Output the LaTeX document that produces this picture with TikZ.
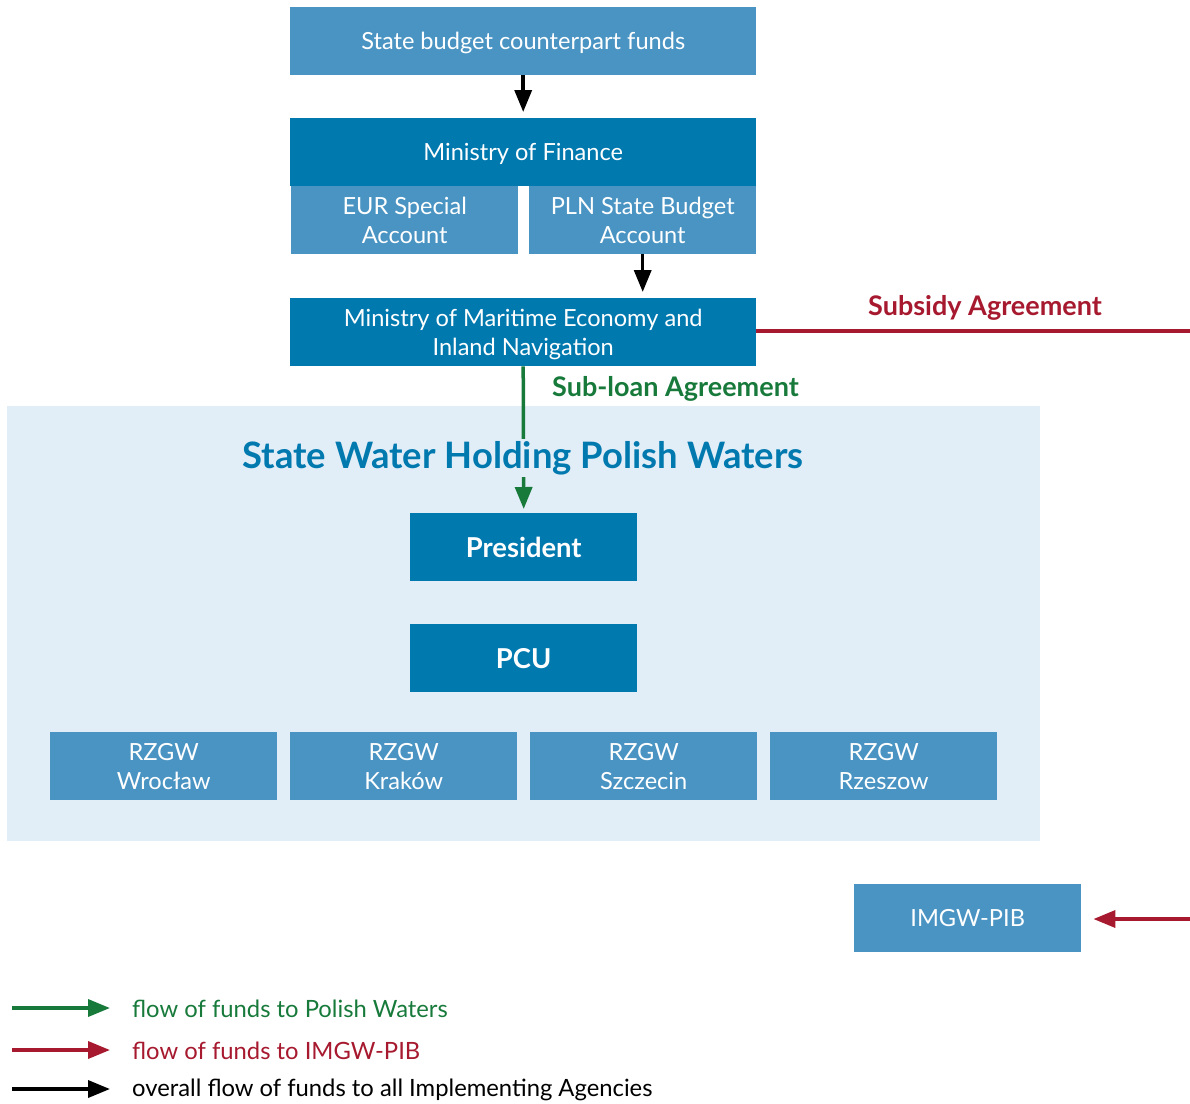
\documentclass[tikz,border=0pt]{standalone}
\usepackage{fontspec}
\setmainfont{Lato}
\usetikzlibrary{arrows.meta}
\definecolor{medblue}{HTML}{4A94C3}
\definecolor{darkblue}{HTML}{0079AF}
\definecolor{bglight}{HTML}{E1EDF7}
\definecolor{redc}{HTML}{A6192E}
\definecolor{greenc}{HTML}{177A3B}
\tikzset{
  x=1pt, y=-1pt,
  boxbase/.style={draw=none, text=white, align=center, inner sep=0pt,
    font=\fontsize{23.6}{29}\selectfont, anchor=north west, text depth=0pt},
  medbox/.style={boxbase, fill=medblue},
  darkbox/.style={boxbase, fill=darkblue},
  boldbox/.style={darkbox, font=\fontsize{27.4}{29}\selectfont\bfseries},
  flow/.style={line width=3.5pt, -{Triangle[length=22pt,width=17pt]}},
  legtext/.style={anchor=west, inner sep=0pt, font=\fontsize{23.8}{26}\selectfont},
  agree/.style={inner sep=0pt, font=\fontsize{27}{30}\selectfont\bfseries},
}
\begin{document}
\begin{tikzpicture}
\useasboundingbox (0,0) rectangle (1190,1103);
% background region
\fill[bglight] (7,406) rectangle (1040,841);
% top boxes
\node[medbox, minimum width=466pt, minimum height=68pt] (sb) at (290,7) {State budget counterpart funds};
\node[darkbox, minimum width=466pt, minimum height=68pt] (mof) at (290,118) {Ministry of Finance};
\node[medbox, minimum width=227pt, minimum height=68pt] (eur) at (291,186) {EUR Special\\Account};
\node[medbox, minimum width=227pt, minimum height=68pt] (pln) at (529,186) {PLN State Budget\\Account};
\node[darkbox, minimum width=466pt, minimum height=68pt] (mme) at (290,298) {Ministry of Maritime Economy and\\Inland Navigation};
% inside
\node[boldbox, minimum width=227pt, minimum height=68pt] (pres) at (410,513) {President};
\node[boldbox, minimum width=227pt, minimum height=68pt] (pcu) at (410,624) {PCU};
\node[medbox, minimum width=227pt, minimum height=68pt] (r1) at (50,732) {RZGW\\Wrocław};
\node[medbox, minimum width=227pt, minimum height=68pt] (r2) at (290,732) {RZGW\\Kraków};
\node[medbox, minimum width=227pt, minimum height=68pt] (r3) at (530,732) {RZGW\\Szczecin};
\node[medbox, minimum width=227pt, minimum height=68pt] (r4) at (770,732) {RZGW\\Rzeszow};
\node[medbox, minimum width=227pt, minimum height=68pt] (imgw) at (854,884) {IMGW-PIB};
% arrows
\draw[flow] (sb.south) -- ([yshift=6pt]mof.north);
\draw[flow] (pln.south) -- ([yshift=6pt]mme.north -| pln.south);
\draw[flow, greenc] (mme.south) -- ([yshift=4pt]pres.north);
% title over the green line
\node[fill=bglight, text=darkblue, font=\fontsize{36.4}{40}\selectfont\bfseries, inner sep=2pt] (title) at (523,458) {State Water Holding Polish Waters};
\node[agree, text=greenc, anchor=west] (subloan) at (552,389) {Sub-loan Agreement};
% subsidy
\coordinate (subend) at (1190,331);
\draw[redc, line width=3.5pt] (mme.east |- subend) -- (subend);
\node[agree, text=redc] (subsidy) at (985,308) {Subsidy Agreement};
\coordinate (imgwstart) at (1190,919);
\draw[flow, redc] (imgwstart) -- ([xshift=12pt]imgw.east |- imgwstart);
% legend
\coordinate (l1a) at (12,1008); \coordinate (l1b) at (110,1008);
\coordinate (l2a) at (12,1050); \coordinate (l2b) at (110,1050);
\coordinate (l3a) at (12,1089); \coordinate (l3b) at (110,1089);
\draw[flow, greenc] (l1a) -- (l1b);
\draw[flow, redc] (l2a) -- (l2b);
\draw[flow, black] (l3a) -- (l3b);
\node[legtext, text=greenc] (lt1) at (132,1009) {flow of funds to Polish Waters};
\node[legtext, text=redc] (lt2) at (132,1051) {flow of funds to IMGW-PIB};
\node[legtext, text=black] (lt3) at (132,1090) {overall flow of funds to all Implementing Agencies};
\end{tikzpicture}
\end{document}
